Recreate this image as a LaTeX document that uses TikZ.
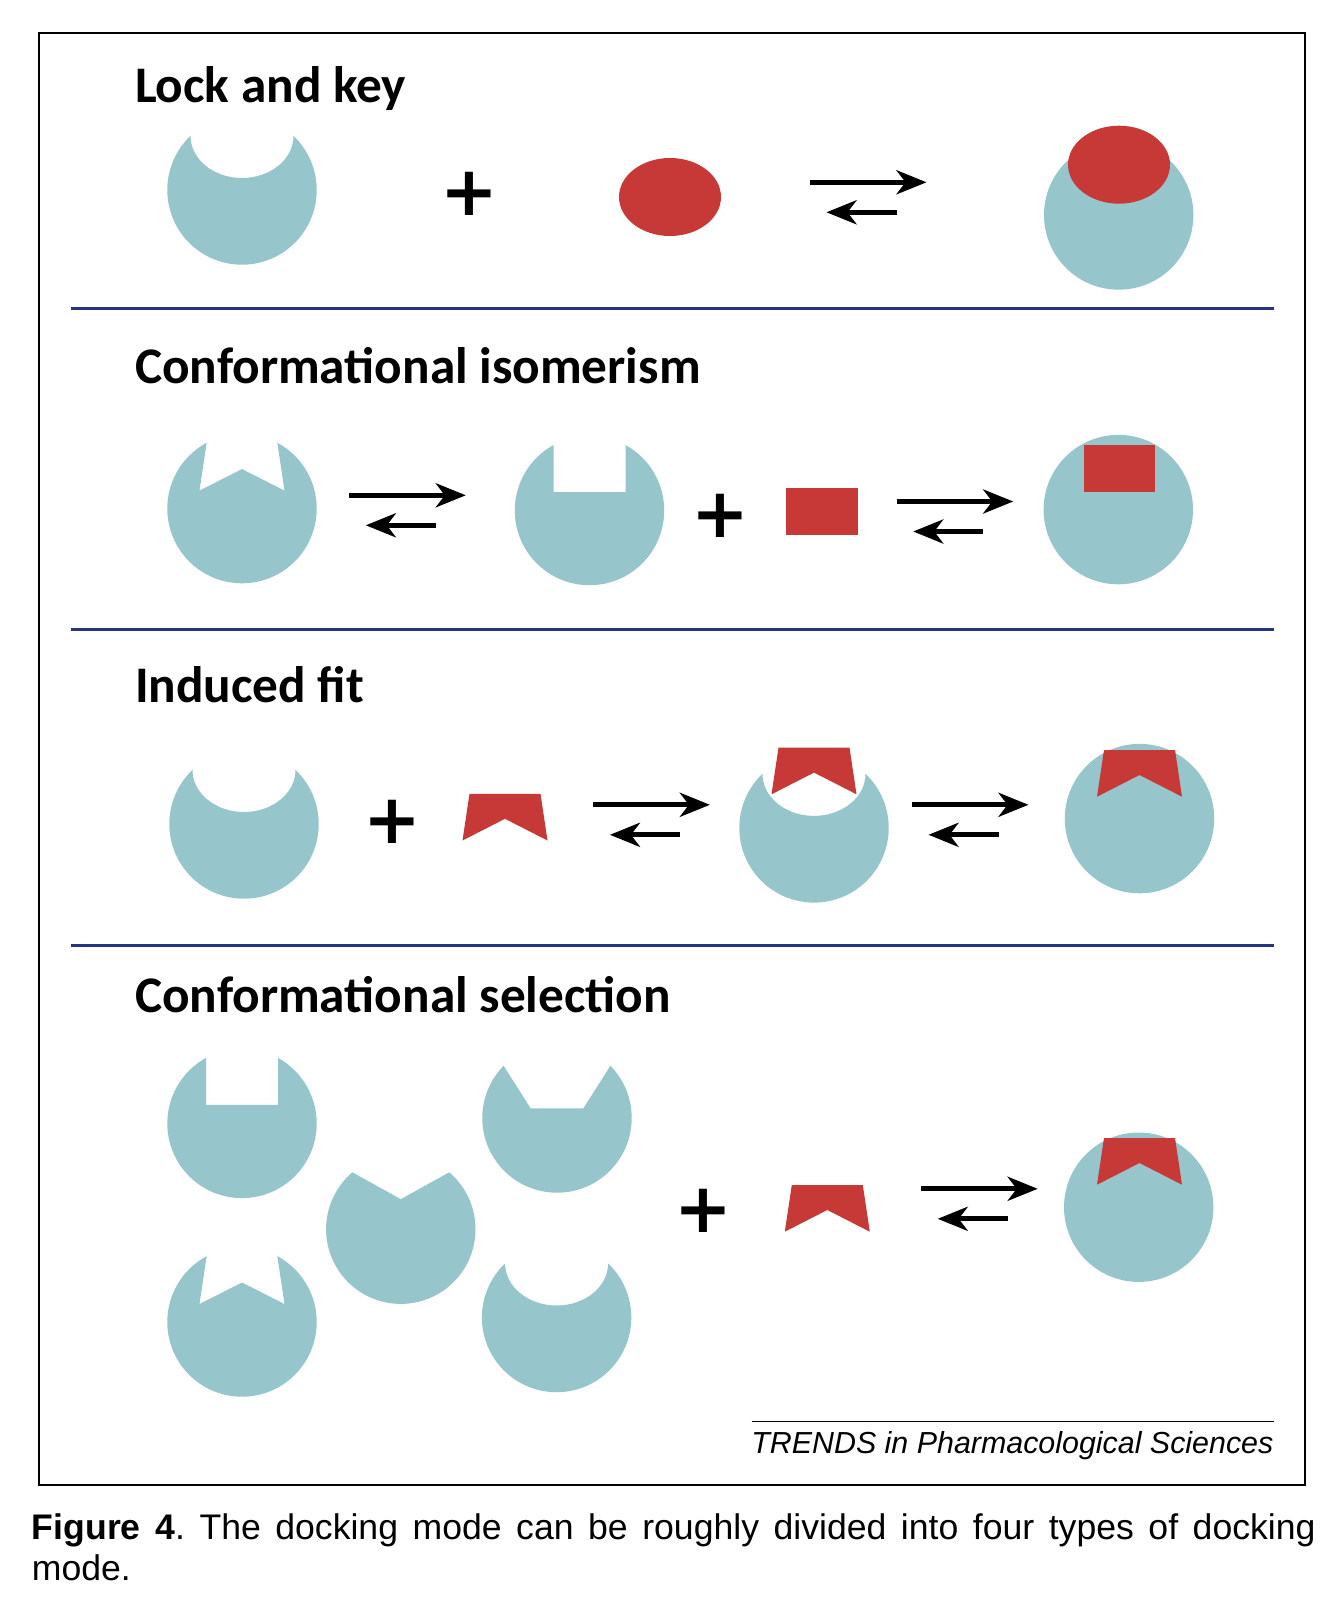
\documentclass[tikz,border=0pt]{standalone}
\usepackage{fontspec}
\setmainfont{Liberation Sans}
\newfontfamily\titlefont{Carlito}
\newfontfamily\plusfont{DejaVu Sans}
\usetikzlibrary{arrows.meta,calc}
\definecolor{recteal}{RGB}{151,197,204}
\definecolor{ligred}{RGB}{199,57,55}
\definecolor{sepblue}{RGB}{40,52,130}
\frenchspacing
\tikzset{
  eqarrow/.style={line width=5pt,-{Stealth[length=30pt,width=24pt,inset=9pt]}},
  plussign/.style={font=\plusfont\bfseries\fontsize{69pt}{69pt}\selectfont,inner sep=0pt,anchor=base},
  titletext/.style={font=\titlefont\bfseries\fontsize{51.3pt}{60pt}\selectfont,inner sep=0pt,anchor=base west},
  sepline/.style={draw=sepblue,line width=3pt},
}
% receptors (circle centre x,y); the pocket is clipped away
\newcommand\recEll[2]{\begin{scope}[shift={(#1,#2)},even odd rule]
 \clip (-100,-120) rectangle (100,100) (0,-54) ellipse[x radius=51.5pt,y radius=42pt];
 \fill[recteal] (0,0) circle[radius=74.7pt];
\end{scope}}
\newcommand\recW[2]{\begin{scope}[shift={(#1,#2)},even odd rule]
 \clip (-100,-120) rectangle (100,100) (-42.5,-18) -- (0,-39.5) -- (42.5,-18) -- (31.7,-90) -- (-31.7,-90) -- cycle;
 \fill[recteal] (0,0) circle[radius=74.7pt];
\end{scope}}
\newcommand\recRect[2]{\begin{scope}[shift={(#1,#2)},even odd rule]
 \clip (-100,-120) rectangle (100,100) (-36,-18.5) rectangle (36,-90);
 \fill[recteal] (0,0) circle[radius=74.7pt];
\end{scope}}
\newcommand\recV[2]{\begin{scope}[shift={(#1,#2)},even odd rule]
 \clip (-110,-120) rectangle (110,100) (0,-30) -- (90,-80) -- (90,-100) -- (-90,-100) -- (-90,-80) -- cycle;
 \fill[recteal] (0,0) circle[radius=74.7pt];
\end{scope}}
\newcommand\recTrap[2]{\begin{scope}[shift={(#1,#2)},even odd rule]
 \clip (-110,-120) rectangle (110,100) (-26.4,-9.7) -- (26.4,-9.7) -- (83.7,-100) -- (-83.7,-100) -- cycle;
 \fill[recteal] (0,0) circle[radius=74.7pt];
\end{scope}}
% ligands
\newcommand\ligChev[2]{\fill[ligred,shift={(#1,#2)}] (-42.5,0) -- (0,-21.7) -- (42.5,0) -- (35.5,-46.7) -- (-35.5,-46.7) -- cycle;}
% equilibrium arrows
\newcommand\eqarr[3]{%
 \coordinate (#1ts) at (#2,#3);
 \coordinate (#1te) at ($(#1ts)+(116.5,0)$);
 \coordinate (#1bs) at ($(#1ts)+(86.5,30)$);
 \coordinate (#1be) at ($(#1ts)+(16.5,30)$);
 \draw[eqarrow] (#1ts) -- (#1te);
 \draw[eqarrow] (#1bs) -- (#1be);}
\begin{document}
\begin{tikzpicture}[x=1pt,y=-1pt]
\useasboundingbox (0,0) rectangle (1340,1602);
\fill[white] (0,0) rectangle (1340,1602);
\draw[line width=2pt] (38.8,32.7) rectangle (1305,1485);
% separators
\coordinate (s1a) at (70.5,308.4); \coordinate (s1b) at (1273.6,308.4);
\coordinate (s2a) at (70.5,629.1); \coordinate (s2b) at (1273.6,629.1);
\coordinate (s3a) at (70.5,945.7); \coordinate (s3b) at (1273.6,945.7);
\draw[sepline] (s1a) -- (s1b);
\draw[sepline] (s2a) -- (s2b);
\draw[sepline] (s3a) -- (s3b);
% titles
\node[titletext] (t1) at (134.8,102.5) {Lock and key};
\node[titletext] (t2) at (134.8,383) {Conformational isomerism};
\node[titletext] (t3) at (134.8,702) {Induced fit};
\node[titletext] (t4) at (134.8,1012) {Conformational selection};
% row 1
\recEll{242}{190}
\node[plussign] (p1) at (469,215.4) {+};
\fill[ligred] (670,197) ellipse[x radius=51pt,y radius=39pt];
\eqarr{a1}{810}{182.3}
\fill[recteal] (1118.7,215) circle[radius=74.7pt];
\fill[ligred] (1119,164.7) ellipse[x radius=51pt,y radius=39pt];
% row 2
\recW{242}{508.6}
\eqarr{a2}{349.3}{495.3}
\recRect{589.5}{510.5}
\node[plussign] (p2) at (720,537.4) {+};
\fill[ligred] (786.3,488.2) rectangle (857.8,535.2);
\eqarr{a3}{896.7}{501.5}
\fill[recteal] (1118.3,509.6) circle[radius=74.7pt];
\fill[ligred] (1083.6,445.3) rectangle (1155.1,492.3);
% row 3
\recEll{244}{824}
\node[plussign] (p3) at (392,843.5) {+};
\ligChev{505}{840.5}
\eqarr{a4}{593.4}{804.8}
\recEll{814}{827.9}
\ligChev{814}{794.3}
\eqarr{a5}{912}{804.8}
\fill[recteal] (1139.5,818.6) circle[radius=74.7pt];
\ligChev{1139.5}{796.7}
% row 4
\recRect{242}{1123.4}
\recV{400.8}{1229.2}
\recTrap{557}{1118}
\recW{242}{1322}
\recEll{556.6}{1317.5}
\node[plussign] (p4) at (703.7,1232.6) {+};
\ligChev{827.3}{1231.7}
\eqarr{a6}{921.2}{1188.8}
\fill[recteal] (1138.7,1207.2) circle[radius=74.7pt];
\ligChev{1139.5}{1184.7}
% source line
\coordinate (r1) at (751.7,1421.6); \coordinate (r2) at (1273.6,1421.6);
\draw[line width=1pt] (r1) -- (r2);
\node[inner sep=0pt,anchor=base east,font=\itshape\fontsize{30.4pt}{36pt}\selectfont] (src) at (1273.6,1453) {TRENDS in Pharmacological Sciences};
% caption
\node[inner sep=0pt,anchor=base west,font=\fontsize{35.6pt}{41pt}\selectfont] (cap1) at (31.7,1539) {\makebox[1283.7pt][s]{\textbf{Figure 4}. The docking mode can be roughly divided into four types of docking}};
\node[inner sep=0pt,anchor=base west,font=\fontsize{35.6pt}{41pt}\selectfont] (cap2) at (31.7,1580) {mode.};
\end{tikzpicture}
\end{document}
